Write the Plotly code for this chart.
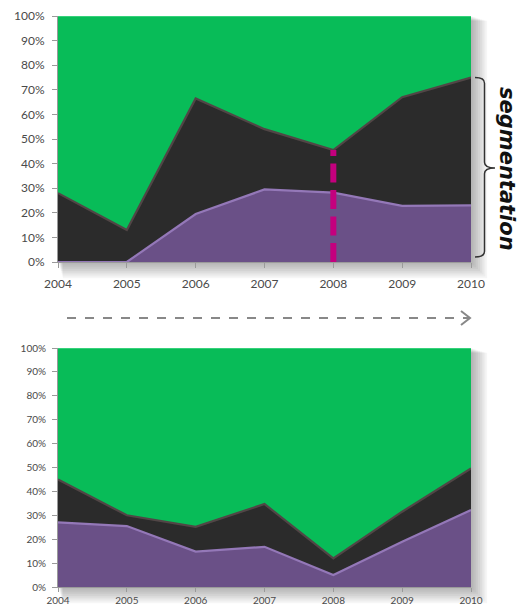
import plotly.graph_objects as go

years = [2004, 2005, 2006, 2007, 2008, 2009, 2010]
year_labels = ["2004", "2005", "2006", "2007", "2008", "2009", "2010"]

# Top chart (percent shares)
top_purple = [0, 0, 19.5, 29.5, 28.2, 22.8, 23.0]
top_black = [28, 13, 47.0, 24.5, 17.3, 44.2, 52.0]
top_green = [72, 87, 33.5, 46.0, 54.5, 33.0, 25.0]

# Bottom chart (percent shares)
bot_purple = [27.0, 25.5, 14.8, 16.8, 5.0, 18.9, 32.2]
bot_black = [18.0, 4.5, 10.4, 17.9, 7.0, 12.6, 17.4]
bot_green = [55.0, 70.0, 74.8, 65.3, 88.0, 68.5, 50.4]

y_ticks = [0, 10, 20, 30, 40, 50, 60, 70, 80, 90, 100]
y_tick_labels = ["0%", "10%", "20%", "30%", "40%", "50%", "60%", "70%", "80%", "90%", "100%"]

W, H = 529, 609
ML, MR, MT, MB = 58, 58, 16, 22
PW = W - ML - MR
PH = H - MT - MB


def px(x):
    return (x - ML) / PW


def py(y):
    return (H - MB - y) / PH


PURPLE = "#6A5087"
PURPLE_EDGE = "#9478B8"
BLACK = "#2B2B2B"
BLACK_EDGE = "#514646"
GREEN = "#08BC58"
GREEN_EDGE = "#36D27B"

fig = go.Figure()


def add_stack(purple, black, green, xa, ya, grp):
    for name, vals, fill, edge in [
        ("A", purple, PURPLE, PURPLE_EDGE),
        ("B", black, BLACK, BLACK_EDGE),
        ("C", green, GREEN, GREEN_EDGE),
    ]:
        fig.add_trace(go.Scatter(
            x=years, y=vals, stackgroup=grp, mode="lines",
            line=dict(color=edge, width=2.2), fillcolor=fill,
            xaxis=xa, yaxis=ya, showlegend=False, hoverinfo="skip",
        ))


add_stack(top_purple, top_black, top_green, "x", "y", "top")
add_stack(bot_purple, bot_black, bot_green, "x2", "y2", "bot")

top_dom = [py(262), 1.0]
bot_dom = [0.0, py(348)]

axis_common = dict(
    showgrid=False, zeroline=False, showline=True, linecolor="#9A9A9A",
    linewidth=1, ticks="outside", tickcolor="#9A9A9A",
    automargin=False,
)

fig.update_layout(
    width=W, height=H,
    margin=dict(l=ML, r=MR, t=MT, b=MB),
    paper_bgcolor="white", plot_bgcolor="rgba(0,0,0,0)",
    font=dict(family="Lato, Liberation Sans, sans-serif", color="#4a4a4a"),
    xaxis=dict(domain=[0, 1], anchor="y", range=[years[0], years[-1]],
               tickvals=years, ticktext=year_labels, ticklabelstandoff=6,
               ticklen=5, tickfont=dict(size=12), **axis_common),
    yaxis=dict(domain=top_dom, anchor="x", range=[0, 100], tickvals=y_ticks,
               ticktext=y_tick_labels, ticklabelstandoff=5,
               ticklen=5, tickfont=dict(size=12), **axis_common),
    xaxis2=dict(domain=[0, 1], anchor="y2", range=[years[0], years[-1]],
                tickvals=years, ticktext=year_labels, ticklabelstandoff=0,
                ticklen=4, tickfont=dict(size=10), **axis_common),
    yaxis2=dict(domain=bot_dom, anchor="x2", range=[0, 100], tickvals=y_ticks,
                ticktext=y_tick_labels, ticklabelstandoff=4,
                ticklen=5, tickfont=dict(size=10), **axis_common),
)

shapes = []
# soft drop shadows behind both plot areas
for (y0, y1) in [(top_dom[0], top_dom[1]), (bot_dom[0], bot_dom[1])]:
    for k in range(1, 10):
        off = k * 1.8
        shapes.append(dict(
            type="rect", xref="paper", yref="paper", layer="below",
            x0=px(ML + off * 0.3), x1=px(ML + PW + off),
            y0=y0 - off / PH, y1=y1 - off * 0.3 / PH,
            line=dict(width=0), fillcolor="rgba(0,0,0,0.035)",
        ))

# magenta dashed marker at 2008 up to the black boundary
i08 = years.index(2008)
shapes.append(dict(
    type="line", xref="x", yref="y",
    x0=years[i08], x1=years[i08], y0=0, y1=top_purple[i08] + top_black[i08],
    line=dict(color="#C4007E", width=6, dash="19px,7.5px"),
))

# curly bracket to the right of the top chart
xa, xb, xc = px(475), px(484.5), px(495)
y_top = top_purple[-1] + top_black[-1]


def ydat(v):
    return top_dom[0] + (top_dom[1] - top_dom[0]) * v / 100.0


ya, yb, ym = ydat(y_top), py(257), py(168)
dy = 0.010
path = (f"M {xa},{ya} Q {xb},{ya} {xb},{ya - dy} L {xb},{ym + dy} "
        f"Q {xb},{ym} {xc},{ym} Q {xb},{ym} {xb},{ym - dy} "
        f"L {xb},{yb + dy} Q {xb},{yb} {xa},{yb}")
shapes.append(dict(type="path", xref="paper", yref="paper", path=path,
                   line=dict(color="#333333", width=1.5)))

# dashed arrow between the charts
ay = py(318)
shapes.append(dict(type="line", xref="paper", yref="paper",
                   x0=px(67), x1=px(469), y0=ay, y1=ay,
                   line=dict(color="#888888", width=2, dash="dash")))
shapes.append(dict(type="path", xref="paper", yref="paper",
                   path=f"M {px(461)},{py(311)} L {px(470)},{ay} L {px(461)},{py(325)}",
                   line=dict(color="#888888", width=2)))

fig.update_layout(shapes=shapes)

fig.add_annotation(
    x=px(507), y=py(169), xref="paper", yref="paper",
    xanchor="center", yanchor="middle",
    text="<b><i>segmentation</i></b>", textangle=90, showarrow=False,
    font=dict(size=21, color="#111111", family="DejaVu Sans, sans-serif"),
)

fig.write_html("out.html", config={"displayModeBar": False},
               post_script="document.body.style.margin='0';")
